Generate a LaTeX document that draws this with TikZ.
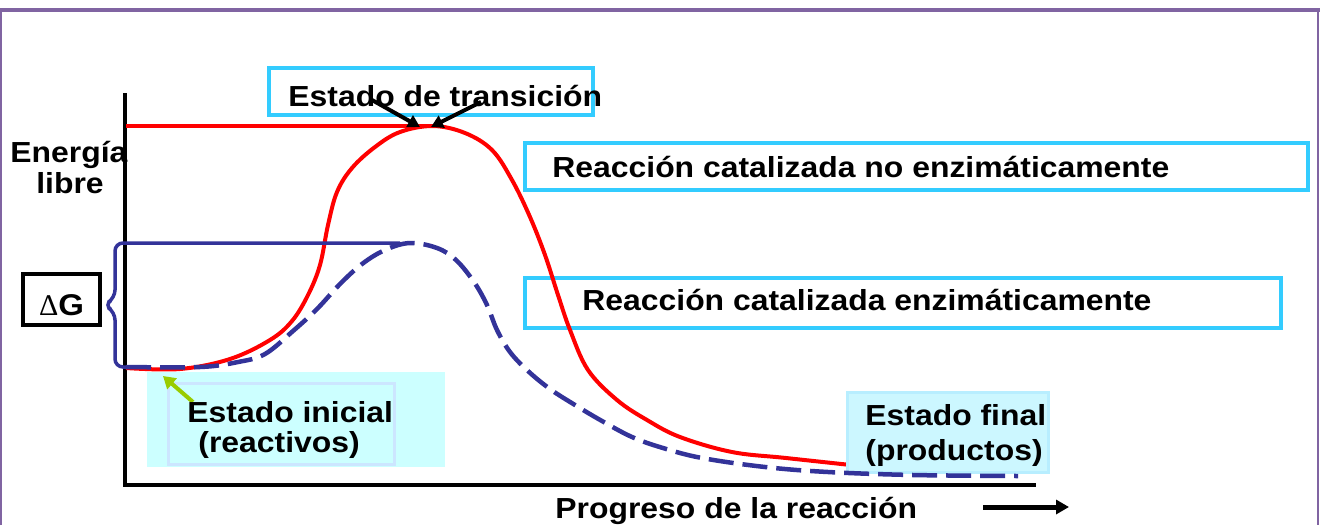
\documentclass[tikz,border=0pt]{standalone}
\usepackage{fontspec}
\setmainfont{Liberation Sans}[FakeStretch=1.10]
\newfontfamily\symfont{Liberation Serif}
\usetikzlibrary{arrows.meta}
\definecolor{framepurple}{HTML}{8064A2}
\definecolor{curvered}{HTML}{FF0000}
\definecolor{curveblue}{HTML}{333399}
\definecolor{boxcyan}{HTML}{33CCFF}
\definecolor{lightfill}{HTML}{CCFFFF}
\definecolor{innerline}{HTML}{CCE6FF}
\definecolor{finalfill}{HTML}{CCF7FF}
\definecolor{finalline}{HTML}{B8EEFF}
\definecolor{arrowgreen}{HTML}{99CC00}
\begin{document}
\begin{tikzpicture}[x=0.5pt,y=-0.5pt,
  lbl/.style={font=\fontsize{14.5}{16}\selectfont\bfseries, inner sep=0pt, anchor=base west},
  cyanbox/.style={draw=boxcyan, line width=1.75pt, inner sep=0pt},
  blk/.style={draw=black, line width=2pt, -{Triangle[length=6pt,width=6.5pt]}}]
\useasboundingbox (0,0) rectangle (1320,525);
% frame
\draw[framepurple, line width=1pt] (1,525) -- (1,10) (1318,10) -- (1318,525);
\draw[framepurple, line width=2.25pt] (0,10) -- (1320,10);
% boxes
\node[cyanbox, minimum width=162pt, minimum height=23.5pt] (tsbox) at (431,91.5) {};
\node[cyanbox, minimum width=391.5pt, minimum height=23.5pt] (nebox) at (916.5,166.5) {};
\node[cyanbox, minimum width=378pt, minimum height=25pt] (ebox) at (903,303) {};
\node[fill=lightfill, inner sep=0pt, minimum width=149pt, minimum height=47.5pt] (inibox) at (296,419.5) {};
\node[draw=innerline, line width=1.5pt, inner sep=0pt, minimum width=113pt, minimum height=40.5pt] (iniinner) at (281,423.5) {};
\node[draw=black, line width=1.75pt, inner sep=0pt, minimum width=38.5pt, minimum height=25.5pt] (dgbox) at (61.5,299.5) {};
% axes
\coordinate (ytop) at (125,93);
\coordinate (orig) at (125,485);
\coordinate (xend) at (1036,485);
\draw[black, line width=2pt] (ytop) -- (orig) -- (xend);
% red horizontal line and red curve
\coordinate (redstart) at (126,126);
\coordinate (redpeak) at (433,126);
\draw[curvered, line width=2pt] (redstart) -- (redpeak);
\draw[curvered, line width=2pt] plot[smooth, tension=0.6] coordinates {
 (126,368) (180,369) (230,359) (270,340) (292,321) (308,295) (320,265)
 (328,225) (337,192) (352,168) (375,147) (400,132) (433,126)
 (465,133) (492,150) (512,180) (530,217) (545,255) (558,295) (570,330)
 (588,370) (617,400) (647,420) (680,437) (732,452) (786,458) (860,466)};
% final box (covers end of red curve)
\node[fill=finalfill, draw=finalline, line width=1.5pt, inner sep=0pt, minimum width=100.5pt, minimum height=40pt] (finbox) at (947.5,432) {};
% blue bracket
\coordinate (bluepeak) at (400,243);
\coordinate (bluebase) at (150,367);
\draw[curveblue, line width=1.75pt, rounded corners=4pt] (bluepeak) -- (115,243) -- (115,298) -- (104,305) -- (115,312) -- (115,367) -- (bluebase);
% blue dashed curve
\draw[curveblue, line width=2.25pt, dash pattern=on 12.5pt off 4.5pt] plot[smooth, tension=0.6] coordinates {
 (126,367) (200,367) (238,362) (265,354) (293,331) (317,309) (340,284) (362,264)
 (385,250) (410,243) (437,248) (456,260) (474,282) (487,305) (497,330)
 (510,352) (528,371) (550,389) (575,405) (602,421) (632,437) (663,448) (702,458)
 (765,467) (828,472) (913,475) (1018,476)};
% arrows to the transition state
\coordinate (ta1) at (372,100);
\coordinate (tb1) at (420,127);
\coordinate (ta2) at (481,102);
\coordinate (tb2) at (431,127);
\draw[blk] (ta1) -- (tb1);
\draw[blk] (ta2) -- (tb2);
% green arrow
\coordinate (ga) at (193,402);
\coordinate (gb) at (163,376);
\draw[arrowgreen, line width=2pt, -{Triangle[length=6pt,width=7pt]}] (ga) -- (gb);
% progress arrow
\coordinate (pa) at (983,507);
\coordinate (pb) at (1069,507);
\draw[black, line width=2.5pt, -{Triangle[length=6.5pt,width=7pt]}] (pa) -- (pb);
% texts
\node[lbl] (tstxt) at (288,106) {Estado de transición};
\node[lbl] (netxt) at (552,177) {Reacción catalizada no enzimáticamente};
\node[lbl] (etxt) at (582,310) {Reacción catalizada enzimáticamente};
\node[lbl] (en1) at (10,162) {Energía};
\node[lbl, anchor=base] (en2) at (70,193) {libre};
\node[font=\fontsize{15}{17}\selectfont\bfseries, inner sep=0pt, anchor=base] (dgtxt) at (61.5,315) {{\symfont\fontsize{15}{17}\selectfont\mdseries Δ}G};
\node[lbl] (ini1) at (187,422) {Estado inicial};
\node[lbl] (ini2) at (198,452) {(reactivos)};
\node[lbl] (fin1) at (865,425) {Estado final};
\node[lbl] (fin2) at (865,460) {(productos)};
\node[lbl] (prog) at (555,518) {Progreso de la reacción};
\end{tikzpicture}
\end{document}
